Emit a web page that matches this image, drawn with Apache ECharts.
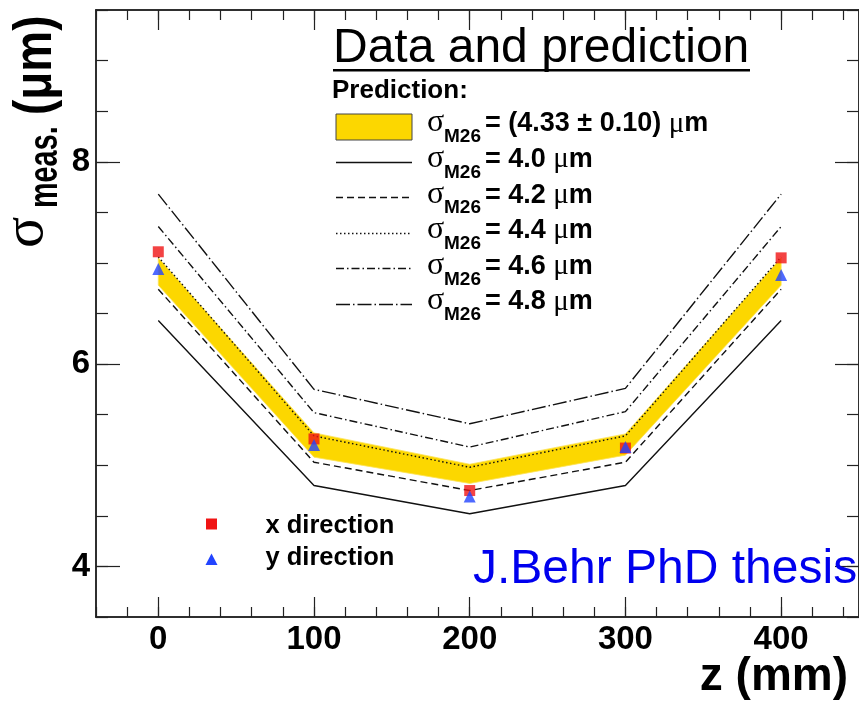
<!DOCTYPE html>
<html>
<head>
<meta charset="utf-8">
<script src="https://cdn.jsdelivr.net/npm/echarts@6/dist/echarts.min.js"></script>
<style>
html, body { margin: 0; padding: 0; background: #fff; }
#chart { width: 859px; height: 701px; }
</style>
</head>
<body>
<div id="chart"></div>
<script>
// z positions of the planes (mm)
var zValues = [0, 100, 200, 300, 400];
var xMajor = [0, 100, 200, 300, 400];
var yMajor = [4, 6, 8];

// predictions for several sigma_M26 values
var pred40 = [6.43, 4.80, 4.52, 4.80, 6.43];
var pred42 = [6.74, 5.03, 4.75, 5.03, 6.74];
var pred44 = [7.06, 5.29, 4.98, 5.29, 7.06];
var pred46 = [7.36, 5.52, 5.18, 5.53, 7.36];
var pred48 = [7.68, 5.75, 5.41, 5.76, 7.68];
// fitted band (4.33 +- 0.10)
var bandLow = [6.78, 5.08, 4.82, 5.10, 6.78];
var bandHigh = [7.05, 5.32, 5.01, 5.31, 7.05];
// measurements
var xDir = [7.11, 5.26, 4.75, 5.17, 7.05];
var yDir = [6.94, 5.20, 4.69, 5.18, 6.88];

var legendValues = ['(4.33 \u00b1 0.10)', '4.0', '4.2', '4.4', '4.6', '4.8'];
var legendDash = [null, 'solid', [7, 4], [1.5, 2.5], [8, 3, 1.5, 3], [14, 3, 1.5, 3]];

var SANS = '"Liberation Sans", Arial, Helvetica, sans-serif';
var SERIF = '"Liberation Serif", "Times New Roman", serif';
var INK = '#111';

function pairs(vals) {
  return zValues.map(function (z, i) { return [z, vals[i]]; });
}

function predLine(vals, dash) {
  return {
    type: 'line', data: pairs(vals), symbol: 'none', silent: true, z: 3,
    lineStyle: { color: INK, width: 1.4, type: dash }
  };
}

var myChart = echarts.init(document.getElementById('chart'));

// axes: one set for minor ticks, one for major ticks, on all four sides
function xAx(pos, major) {
  var a = {
    type: 'value', position: pos, min: -40, max: 450,
    splitLine: { show: false },
    axisLine: { show: true, onZero: false, lineStyle: { color: '#222', width: 1.5 } },
    axisLabel: { show: false },
    axisTick: { show: true, inside: true, length: 10, lineStyle: { color: '#222', width: 1.2 } }
  };
  if (major) {
    a.axisTick.customValues = xMajor;
    a.axisTick.length = 20;
    if (pos === 'bottom') {
      a.axisLabel = {
        show: true, customValues: xMajor, margin: 6,
        color: '#000', fontFamily: SANS, fontWeight: 'bold', fontSize: 33
      };
    }
  } else {
    a.interval = 20;
  }
  return a;
}

function yAx(pos, major) {
  var a = {
    type: 'value', position: pos, min: 3.5, max: 9.5,
    splitLine: { show: false },
    axisLine: { show: true, onZero: false, lineStyle: { color: '#222', width: 1.5 } },
    axisLabel: { show: false },
    axisTick: { show: true, inside: true, length: 12, lineStyle: { color: '#222', width: 1.2 } }
  };
  if (major) {
    a.axisTick.customValues = yMajor;
    a.axisTick.length = 24;
    if (pos === 'left') {
      a.axisLabel = {
        show: true, customValues: yMajor, margin: 6,
        color: '#000', fontFamily: SANS, fontWeight: 'bold', fontSize: 33
      };
    }
  } else {
    a.interval = 0.5;
  }
  return a;
}

// yellow band drawn as one polygon through the axes
function renderBand(params, api) {
  if (params.dataIndex !== 0) return null;
  var pts = [];
  for (var k = 0; k < zValues.length; k++) pts.push(api.coord([zValues[k], bandHigh[k]]));
  for (var k2 = zValues.length - 1; k2 >= 0; k2--) pts.push(api.coord([zValues[k2], bandLow[k2]]));
  return { type: 'polygon', shape: { points: pts }, style: { fill: '#fcd700', stroke: '#fde35a', lineWidth: 0.8 } };
}

// legend / annotations
var graphics = [];

graphics.push({
  type: 'text', x: 333, y: 49, z: 50,
  style: { text: 'Data and prediction', fontFamily: SANS, fontSize: 48, fill: '#000', verticalAlign: 'middle' }
});
graphics.push({ type: 'rect', z: 50, shape: { x: 333, y: 69, width: 417, height: 2.6 }, style: { fill: '#000' } });
graphics.push({
  type: 'text', x: 332, y: 91, z: 50,
  style: { text: 'Prediction:', fontFamily: SANS, fontWeight: 'bold', fontSize: 26, fill: '#000', verticalAlign: 'middle' }
});

for (var i = 0; i < legendValues.length; i++) {
  var c = 126 + 35.6 * i;
  if (i === 0) {
    graphics.push({ type: 'rect', z: 50, shape: { x: 336, y: 114, width: 76, height: 26 },
      style: { fill: '#fcd700', stroke: '#444', lineWidth: 1 } });
  } else {
    var ly = Math.round(c) + 0.5;
    graphics.push({ type: 'line', z: 50, shape: { x1: 336, y1: ly, x2: 412, y2: ly },
      style: { stroke: INK, lineWidth: 1.3, lineDash: legendDash[i] === 'solid' ? null : legendDash[i] } });
  }
  graphics.push({ type: 'text', x: 427, y: c - 3, z: 50,
    style: { text: '\u03c3', fontFamily: SERIF, fontSize: 32, fill: '#000', verticalAlign: 'middle' } });
  graphics.push({ type: 'text', x: 444, y: c + 11, z: 50,
    style: { text: 'M26', fontFamily: SANS, fontWeight: 'bold', fontSize: 19, fill: '#000', verticalAlign: 'middle' } });
  graphics.push({ type: 'text', x: 485, y: c - 2, z: 50,
    style: {
      text: '{b|= ' + legendValues[i] + ' }{u|\u03bc}{b|m}', verticalAlign: 'middle',
      rich: {
        b: { fontFamily: SANS, fontWeight: 'bold', fontSize: 27, fill: '#000' },
        u: { fontFamily: SERIF, fontSize: 29, fill: '#000' }
      }
    } });
}

// marker legend
graphics.push({ type: 'rect', z: 50, shape: { x: 206, y: 518.5, width: 11, height: 11 }, style: { fill: '#f01414' } });
graphics.push({ type: 'polygon', z: 50, shape: { points: [[211.5, 553.5], [205.5, 565], [217.5, 565]] }, style: { fill: '#2244ff' } });
graphics.push({ type: 'text', x: 265.5, y: 526, z: 50,
  style: { text: 'x direction', fontFamily: SANS, fontWeight: 'bold', fontSize: 25.5, fill: '#000', verticalAlign: 'middle' } });
graphics.push({ type: 'text', x: 265.5, y: 558, z: 50,
  style: { text: 'y direction', fontFamily: SANS, fontWeight: 'bold', fontSize: 25.5, fill: '#000', verticalAlign: 'middle' } });

graphics.push({ type: 'text', x: 473, y: 570, z: 50,
  style: { text: 'J.Behr PhD thesis', fontFamily: SANS, fontSize: 48, fill: '#0000ee', verticalAlign: 'middle' } });

// axis titles
graphics.push({ type: 'text', x: 848, y: 677, z: 50,
  style: { text: 'z (mm)', fontFamily: SANS, fontWeight: 'bold', fontSize: 46, fill: '#000', align: 'right', verticalAlign: 'middle' } });

graphics.push({
  type: 'group', x: 0, y: 252, rotation: Math.PI / 2, z: 50,
  children: [
    { type: 'text', x: 4, y: 27,
      style: { text: '\u03c3', fontFamily: SERIF, fontSize: 58, fill: '#000', verticalAlign: 'middle' } },
    { type: 'text', x: 44, y: 46, scaleX: 0.72,
      style: { text: 'meas.', fontFamily: SANS, fontWeight: 'bold', fontSize: 40, fill: '#000', verticalAlign: 'middle' } },
    { type: 'text', x: 137, y: 36, scaleX: 0.85,
      style: { text: '(\u03bcm)', fontFamily: SANS, fontWeight: 'bold', fontSize: 54, fill: '#000', verticalAlign: 'middle' } }
  ]
});

var option = {
  backgroundColor: '#fff',
  animation: false,
  grid: { left: 96, top: 10, right: -4, bottom: 84, containLabel: false },
  xAxis: [xAx('bottom', false), xAx('bottom', true), xAx('top', false), xAx('top', true)],
  yAxis: [yAx('left', false), yAx('left', true), yAx('right', false), yAx('right', true)],
  series: [
    { type: 'custom', renderItem: renderBand, silent: true, z: 2,
      data: zValues.map(function (z, i) { return [z, bandLow[i], bandHigh[i]]; }),
      encode: { x: 0, y: [1, 2] } },
    predLine(pred40, 'solid'),
    predLine(pred42, [7, 4]),
    predLine(pred44, [1.5, 2.5]),
    predLine(pred46, [8, 3, 1.5, 3]),
    predLine(pred48, [14, 3, 1.5, 3]),
    { type: 'scatter', data: pairs(xDir), symbol: 'rect', symbolSize: 11, z: 4,
      itemStyle: { color: '#f01414' } },
    { type: 'scatter', data: pairs(yDir), symbol: 'triangle', symbolSize: 12, z: 5,
      itemStyle: { color: '#2244ff' } }
  ],
  graphic: graphics
};

if (option && typeof option === 'object') {
  myChart.setOption(option, true);
}
</script>
</body>
</html>
